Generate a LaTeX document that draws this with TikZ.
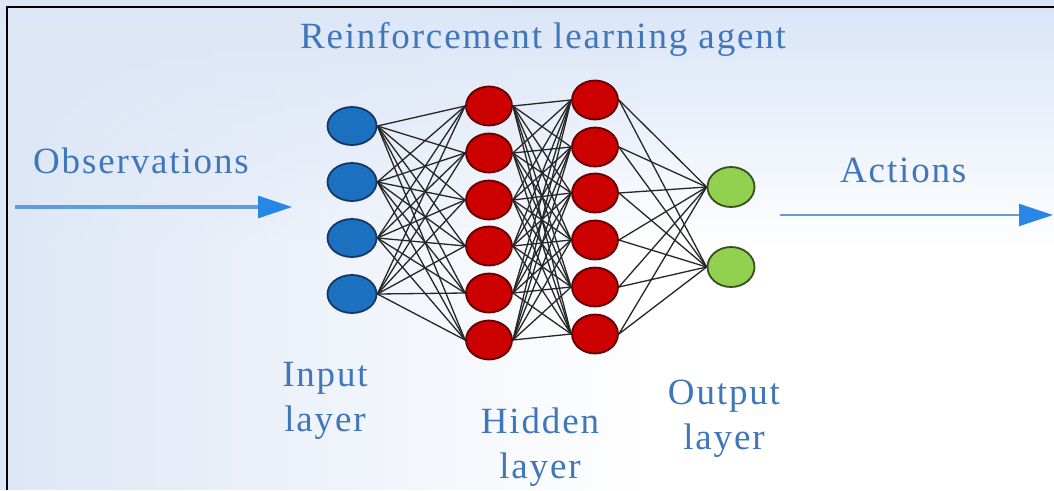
\documentclass[tikz,border=0pt]{standalone}
\usepackage{fontspec}
\setmainfont{Liberation Serif}
\usetikzlibrary{shapes.geometric,arrows.meta,fadings}
\tikzfading[name=bgfaderight, left color=transparent!0, right color=transparent!100]
\definecolor{bgblue}{RGB}{216,228,247}
\definecolor{bgleft}{RGB}{222,231,246}
\definecolor{txtblue}{RGB}{64,118,186}
\definecolor{arrline}{RGB}{100,156,214}
\definecolor{arrhead}{RGB}{40,135,230}
\definecolor{inblue}{RGB}{28,112,192}
\definecolor{inedge}{RGB}{20,55,100}
\definecolor{hidred}{RGB}{204,0,0}
\definecolor{hidedge}{RGB}{100,0,0}
\definecolor{outgreen}{RGB}{146,208,80}
\definecolor{outedge}{RGB}{55,80,30}
\begin{document}
\begin{tikzpicture}[x=1pt,y=-1pt,
  neuron/.style={ellipse, draw, line width=1.8pt, minimum width=46pt, minimum height=39pt, inner sep=0pt},
  innode/.style={neuron, fill=inblue, draw=inedge, minimum width=49pt, minimum height=38pt},
  hidnode/.style={neuron, fill=hidred, draw=hidedge},
  outnode/.style={neuron, fill=outgreen, draw=outedge, minimum width=47pt, minimum height=40pt},
  link/.style={black!85, line width=1.3pt},
  lbl/.style={text=txtblue, font=\fontsize{37}{45}\selectfont\addfontfeatures{LetterSpace=5}, inner sep=0pt, align=center},
  flow/.style={draw=arrline, -{Triangle[length=34pt,width=22pt,color=arrhead]}}
]
\useasboundingbox (0,0) rectangle (1054,490);
% background
\fill[white] (0,0) rectangle (1054,490);
\shade[top color=bgblue, bottom color=white] (0,0) rectangle (1054,250);
\fill[bgleft, path fading=bgfaderight] (0,0) rectangle (640,490);
\draw[line width=2pt] (7,490) -- (7,7) -- (1054,7);

% neurons
\foreach \y [count=\i] in {126,182,238,294}
  \node[innode] (i\i) at (352,\y) {};
\foreach \y [count=\i] in {106,153,200,246,293,340}
  \node[hidnode] (a\i) at (489,\y) {};
\foreach \y [count=\i] in {100,147,193,240,287,334}
  \node[hidnode] (b\i) at (595,\y) {};
\foreach \y [count=\i] in {187,267}
  \node[outnode] (o\i) at (731,\y) {};

% links
\foreach \i in {1,...,4}
  \foreach \j in {1,...,6}
    \draw[link] (i\i.east) -- (a\j.west);
\foreach \i in {1,...,6}
  \foreach \j in {1,...,6}
    \draw[link] (a\i.east) -- (b\j.west);
\foreach \i in {1,...,6}
  \foreach \j in {1,2}
    \draw[link] (b\i.east) -- (o\j.west);

% flows
\coordinate (obsA) at (15,207);
\coordinate (obsB) at (292,207);
\coordinate (actA) at (780,215);
\coordinate (actB) at (1053,215);
\draw[flow, line width=3.2pt] (obsA) -- (obsB);
\draw[flow, line width=2.2pt] (actA) -- (actB);

% labels
\node[lbl, anchor=base] (title) at (543,48) {Reinforcement learning agent};
\node[lbl, anchor=base west] (obs) at (33,173) {Observations};
\node[lbl, anchor=base west] (act) at (840,182) {Actions};
\node[lbl, anchor=base] (inl) at (325,431) {Input\\layer};
\node[lbl, anchor=base] (hidl) at (540,478) {Hidden\\layer};
\node[lbl, anchor=base] (outl) at (724,449) {Output\\layer};
\end{tikzpicture}
\end{document}
